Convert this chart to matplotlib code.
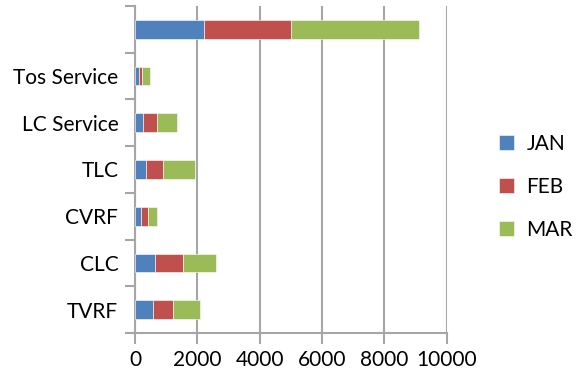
import numpy as np
import matplotlib
matplotlib.use("Agg")
import matplotlib.pyplot as plt

categories = ["TVRF", "CLC", "CVRF", "TLC", "LC Service", "Tos Service", ""]
jan = [590, 650, 200, 365, 270, 130, 2205]
feb = [620, 890, 205, 535, 440, 105, 2795]
mar = [865, 1060, 300, 1015, 650, 235, 4125]
series = ["JAN", "FEB", "MAR"]
colors = ["#4f81bd", "#c0504d", "#9bbb59"]

plt.rcParams["font.family"] = ["Lato", "DejaVu Sans"]
grid_c = "#a6a6a6"
fs = 15

fig = plt.figure(figsize=(5.76, 3.73), dpi=100)
ax = fig.add_axes([0.2344, 0.1072, 0.5411, 0.877])

y = np.arange(len(categories))
left = np.zeros(len(categories))
for vals, name, c in zip([jan, feb, mar], series, colors):
    ax.barh(y, vals, height=0.4, left=left, color=c, label=name,
            edgecolor="white", linewidth=0.4, zorder=3)
    left = left + np.array(vals)

ax.set_xlim(0, 10000)
ax.set_ylim(-0.5, len(categories) - 0.5)
ax.set_xticks(np.arange(0, 10001, 2000))
ax.set_yticks(y)
ax.set_yticklabels(categories)
ax.set_yticks(np.arange(-0.5, len(categories), 1), minor=True)

ax.xaxis.grid(True, color=grid_c, linewidth=1.5, zorder=0)
for s in ["top", "right"]:
    ax.spines[s].set_visible(False)
for s in ["left", "bottom"]:
    ax.spines[s].set_color(grid_c)
    ax.spines[s].set_linewidth(1.5)

ax.tick_params(axis="y", which="major", length=0, pad=12, labelsize=fs)
ax.tick_params(axis="y", which="minor", length=7, width=1.5, color=grid_c)
ax.tick_params(axis="x", which="major", length=8, width=1.5, color=grid_c,
               labelsize=fs, pad=4)

fig.legend(loc="center left", bbox_to_anchor=(0.833, 0.4995), frameon=False,
           fontsize=fs, handlelength=0.72, handleheight=0.72,
           labelspacing=1.1, handletextpad=0.62)

fig.savefig("out.png", dpi=100)
